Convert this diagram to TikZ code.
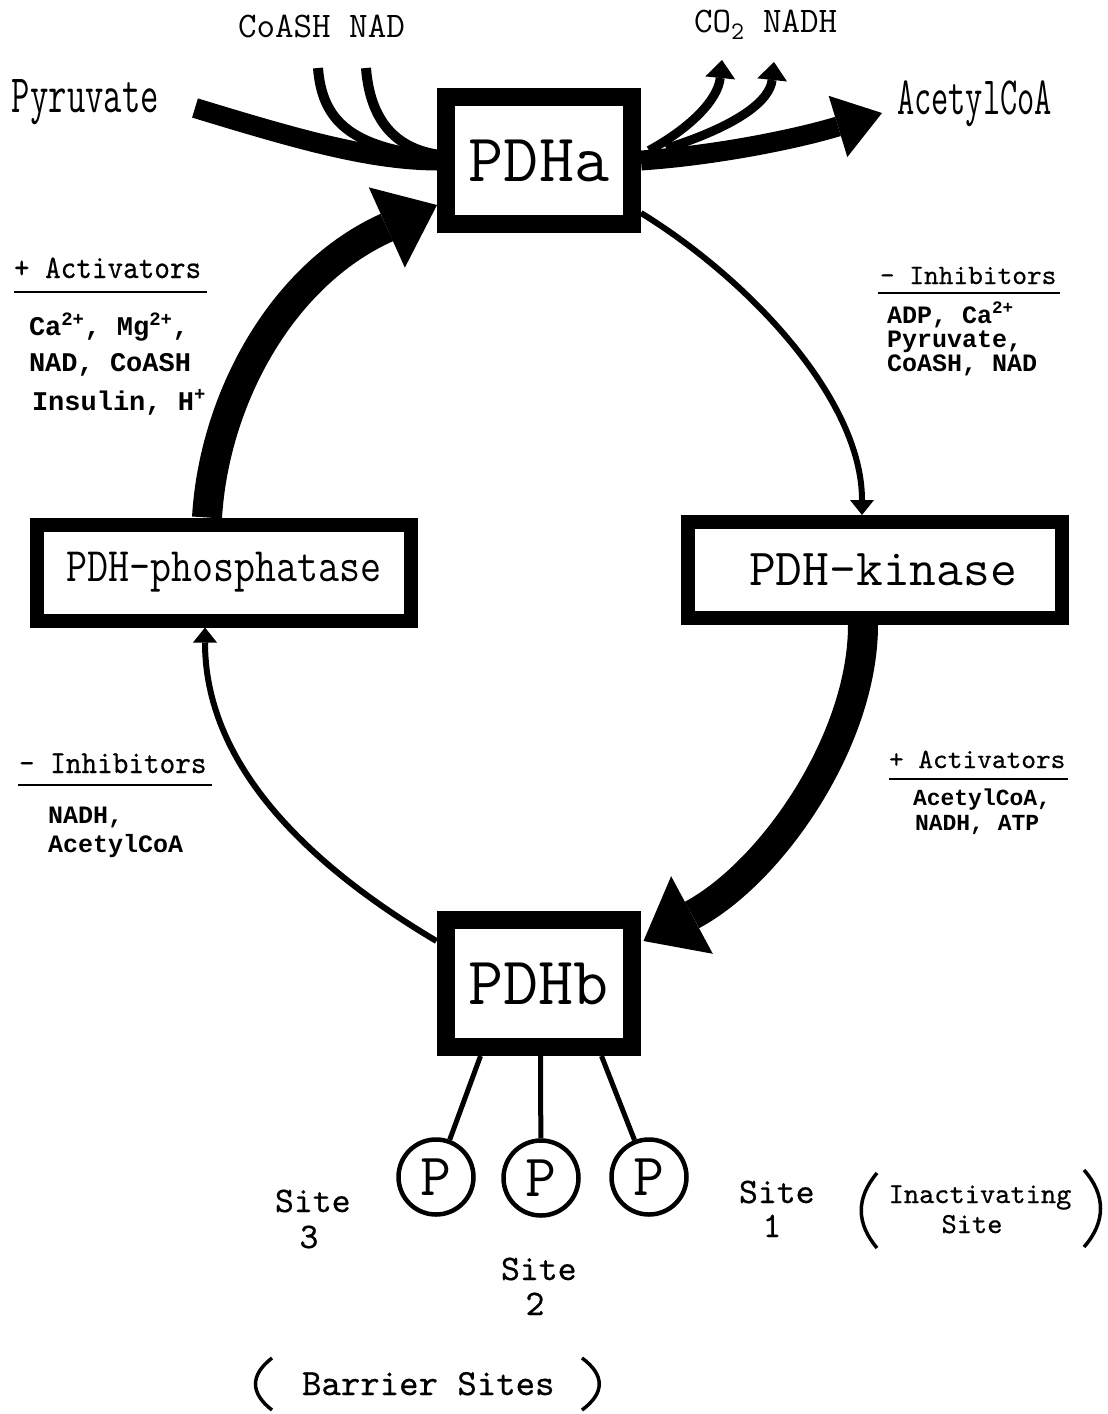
\documentclass[tikz,border=0pt]{standalone}
\usepackage{fontspec}
\usepackage{graphicx}
\newfontfamily\datfont{Liberation Mono}
\newfontfamily\hdfont[FakeBold=0.5]{lmmono10-regular.otf}
\usetikzlibrary{arrows.meta}
\newcommand{\fsz}[1]{\fontsize{#1}{#1}\selectfont}
\newcommand{\sx}[2]{\scalebox{#1}[1]{#2}}
\begin{document}
\begin{tikzpicture}[x=1pt,y=-1pt,
  enz/.style={draw, line width=18pt, outer sep=9pt, inner sep=0pt, minimum width=186pt, minimum height=127pt, font=\fsz{68}\ttfamily},
  modbox/.style={draw, line width=14pt, outer sep=7pt, inner sep=0pt, minimum width=374pt, minimum height=96pt},
  lbl/.style={inner sep=0pt, outer sep=0pt, anchor=base west},
  ctr/.style={inner sep=0pt, outer sep=0pt, anchor=base},
  dat/.style={lbl, font=\fsz{#1}\datfont\bfseries},
  pc/.style={draw, circle, line width=4.5pt, minimum size=75pt, inner sep=0pt, outer sep=2.25pt, font=\fsz{60}\ttfamily},
  heavy/.style={line width=30pt, -{Triangle[length=55pt,width=88pt,line width=0pt]}},
  outarr/.style={line width=20pt, -{Triangle[length=46pt,width=64pt,line width=0pt]}},
  sidearr/.style={line width=9pt, -{Triangle[length=18pt,width=30pt,line width=0pt]}},
  thinarr/.style={line width=6pt, -{Triangle[length=15pt,width=24pt,line width=0pt]}},
  rulel/.style={line width=2.5pt},
  paren/.style={line width=3.5pt}
]
\fill[white] (0,0) rectangle (1108,1414);
\useasboundingbox (0,0) rectangle (1108,1414);

% enzyme boxes
\node[enz] (pdha) at (539,160.5) {PDHa};
\node[enz] (pdhb) at (538.5,983.5) {PDHb};
\node[modbox, font=\fsz{48}\ttfamily] (phos) at (224,572.5) {\sx{0.85}{PDH\textendash phosphatase}};
\node[modbox, font=\fsz{52}\ttfamily] (kin) at (875,570) {\hspace*{16pt}PDH\textendash kinase};

% top labels
\node[lbl, font=\fsz{54}\ttfamily] (pyr) at (12,112) {\sx{0.66}{Pyruvate}};
\node[lbl, font=\fsz{54}\ttfamily] (acoa) at (897,114) {\sx{0.62}{AcetylCoA}};
\node[lbl, font=\fsz{36}\ttfamily] (coanad) at (238,37) {CoASH NAD};
\node[lbl, font=\fsz{36}\ttfamily] (co2nadh) at (694,32) {CO\textsubscript{2} NADH};

% headings
\node[lbl, font=\fsz{33}\hdfont] (actL) at (14,278) {\sx{0.9}{+ Activators}};
\node[lbl, font=\fsz{28}\hdfont] (inhR) at (880,284) {\textendash{} Inhibitors};
\node[lbl, font=\fsz{32}\hdfont] (inhL) at (19,773) {\sx{0.93}{\textendash{} Inhibitors}};
\node[lbl, font=\fsz{28}\hdfont] (actR) at (889,768) {+ Activators};
\draw[rulel] (14,292) -- (207,292);
\draw[rulel] (878,293) -- (1060,293);
\draw[rulel] (18,785) -- (212,785);
\draw[rulel] (889,779) -- (1068,779);

% effector lists
\node[dat=27] (dL1) at (29,335) {Ca\textsuperscript{2+}, Mg\textsuperscript{2+},};
\node[dat=27] (dL2) at (29,371) {NAD, CoASH};
\node[dat=27] (dL3) at (32,410) {Insulin, H\textsuperscript{+}};
\node[dat=25] (dR1) at (887,323) {ADP, Ca\textsuperscript{2+}};
\node[dat=25] (dR2) at (887,347) {Pyruvate,};
\node[dat=25] (dR3) at (887,371) {CoASH, NAD};
\node[dat=25] (dLb1) at (48,823) {NADH,};
\node[dat=25] (dLb2) at (48,852) {AcetylCoA};
\node[dat=23] (dRb1) at (913,805) {AcetylCoA,};
\node[dat=23] (dRb2) at (915,830) {NADH, ATP};

% phosphorylation sites
\node[pc] (p3) at (436,1177) {P};
\node[pc] (p2) at (541,1178) {P};
\node[pc] (p1) at (649,1177) {P};
\node[lbl, font=\fsz{36}\hdfont] (s3) at (275,1212) {Site};
\node[ctr, font=\fsz{36}\hdfont] (n3) at (309,1248) {3};
\node[lbl, font=\fsz{36}\hdfont] (s2) at (501,1280) {Site};
\node[ctr, font=\fsz{36}\hdfont] (n2) at (535,1315) {2};
\node[lbl, font=\fsz{36}\hdfont] (s1) at (739,1203) {Site};
\node[ctr, font=\fsz{36}\hdfont] (n1) at (772,1237) {1};
\node[ctr, font=\fsz{29}\hdfont] (inact) at (980,1203) {Inactivating};
\node[ctr, font=\fsz{29}\hdfont] (inact2) at (972,1233) {Site};
\node[lbl, font=\fsz{37}\hdfont] (barrier) at (302,1395) {Barrier Sites};
\draw[paren] (877,1173) .. controls (856,1198) and (856,1223) .. (877,1248);
\draw[paren] (1084,1170) .. controls (1106,1195) and (1106,1222) .. (1084,1247);
\draw[paren] (272,1358) .. controls (250,1375) and (250,1393) .. (272,1410);
\draw[paren] (582,1358) .. controls (605,1375) and (605,1393) .. (582,1410);

\draw[line width=5pt] ([xshift=-58pt]pdhb.south) -- (p3);
\draw[line width=5pt] ([xshift=2pt]pdhb.south) -- (p2);
\draw[line width=5pt] ([xshift=63pt]pdhb.south) -- (p1);

% substrate / product flow
\coordinate (pyrS) at (195,108);
\coordinate (coaS) at (318,68);
\coordinate (nadS) at (366,68);
\coordinate (acoaT) at (882,113);
\coordinate (co2T) at (722,60);
\coordinate (nadhT) at (774,62);
\draw[line width=20pt] (pyrS) .. controls (300,140) and (370,160) .. (pdha.west);
\draw[line width=10pt] (coaS) .. controls (322,120) and (350,148) .. ([yshift=4pt]pdha.west);
\draw[line width=10pt] (nadS) .. controls (370,120) and (395,148) .. ([yshift=6pt]pdha.west);
\draw[outarr] (pdha.east) .. controls (720,155) and (800,138) .. (acoaT);
\draw[sidearr] ([xshift=8pt,yshift=10pt]pdha.east) .. controls (690,128) and (718,100) .. (co2T);
\draw[sidearr] ([xshift=25pt,yshift=12pt]pdha.east) .. controls (740,125) and (770,100) .. (nadhT);

% regulation cycle
\draw[heavy] ([xshift=-17pt]phos.north) .. controls (214,400) and (281,275) .. ([yshift=28pt]pdha.south west);
\draw[thinarr] ([yshift=20pt]pdha.south east) .. controls (750,280) and (862,400) .. ([xshift=-13pt]kin.north);
\draw[heavy] ([xshift=-12pt]kin.south) .. controls (863,740) and (772,872) .. ([xshift=3pt,yshift=-30pt]pdhb.north east);
\draw[thinarr] ([yshift=-30pt]pdhb.north west) .. controls (300,860) and (205,760) .. ([xshift=-19pt]phos.south);
\end{tikzpicture}
\end{document}
